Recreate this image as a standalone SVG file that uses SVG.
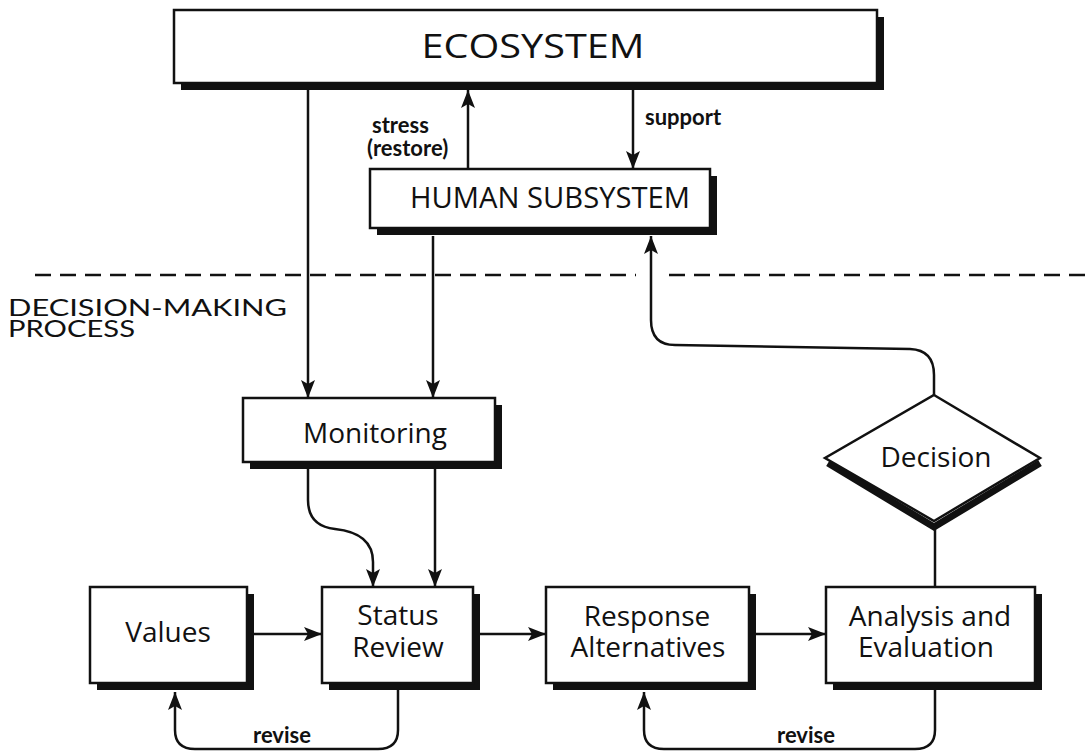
<svg xmlns="http://www.w3.org/2000/svg" width="1086" height="753" viewBox="0 0 1086 753">
<style>
.box{fill:#fff;stroke:#111;stroke-width:2.5}
.sh{fill:#111}
.ln{fill:none;stroke:#111;stroke-width:2.5}
.t{font-family:"Open Sans",Lato,sans-serif;fill:#111;text-anchor:middle;font-size:28px}
.lbl{font-family:Lato,"Open Sans",sans-serif;fill:#111;font-weight:bold;font-size:22px}
</style>
<defs>
<marker id="ah" markerUnits="userSpaceOnUse" markerWidth="20" markerHeight="14" refX="18" refY="7" orient="auto">
<path d="M0,0 L18,7 L0,14 L4,7 z" fill="#111"/>
</marker>
</defs>
<rect width="1086" height="753" fill="#fff"/>
<line x1="35" y1="275" x2="636" y2="275" stroke="#111" stroke-width="2.5" stroke-dasharray="16,9"/>
<line x1="669" y1="275" x2="1086" y2="275" stroke="#111" stroke-width="2.5" stroke-dasharray="16,9"/>
<text font-family="Lato,sans-serif" font-size="24" fill="#111"><tspan x="8" y="316" textLength="279" lengthAdjust="spacingAndGlyphs">DECISION-MAKING</tspan><tspan x="8" y="337" textLength="127" lengthAdjust="spacingAndGlyphs">PROCESS</tspan></text>

<g id="ecosystem">
<rect class="sh" x="181" y="17" width="703" height="73"/>
<rect class="box" x="174" y="10" width="703" height="73"/>
<text class="t" x="533" y="58" style="font-size:32px" textLength="223" lengthAdjust="spacingAndGlyphs">ECOSYSTEM</text>
</g>
<g id="human">
<rect class="sh" x="377" y="176" width="340" height="59"/>
<rect class="box" x="370" y="169" width="340" height="59"/>
<text class="t" x="550" y="208" style="font-size:29px" textLength="280" lengthAdjust="spacingAndGlyphs">HUMAN SUBSYSTEM</text>
</g>
<g id="monitoring">
<rect class="sh" x="250" y="405" width="252" height="64"/>
<rect class="box" x="243" y="398" width="252" height="64"/>
<text class="t" x="375" y="443">Monitoring</text>
</g>
<g id="values">
<rect class="sh" x="97" y="594" width="157" height="96"/>
<rect class="box" x="90" y="587" width="157" height="96"/>
<text class="t" x="168" y="642">Values</text>
</g>
<g id="status">
<rect class="sh" x="329" y="594" width="151" height="96"/>
<rect class="box" x="322" y="587" width="151" height="96"/>
<text class="t"><tspan x="398" y="625">Status</tspan><tspan x="398" y="657">Review</tspan></text>
</g>
<g id="response">
<rect class="sh" x="553" y="594" width="203" height="96"/>
<rect class="box" x="546" y="587" width="203" height="96"/>
<text class="t"><tspan x="647" y="626">Response</tspan><tspan x="648" y="657">Alternatives</tspan></text>
</g>
<g id="analysis">
<rect class="sh" x="833" y="594" width="209" height="96"/>
<rect class="box" x="826" y="587" width="209" height="96"/>
<text class="t"><tspan x="930" y="626">Analysis and</tspan><tspan x="926" y="657">Evaluation</tspan></text>
</g>
<g id="decision">
<polyline points="828,463 934,527 1040,463" fill="none" stroke="#111" stroke-width="7"/>
<polygon class="box" points="934,395 1040,458 934,521 825,458"/>
<text class="t" x="936" y="467">Decision</text>
</g>

<g id="connectors">
<path class="ln" d="M308,90 L308,398" marker-end="url(#ah)"/>
<path class="ln" d="M468,169 L468,90" marker-end="url(#ah)"/>
<path class="ln" d="M633,90 L633,169" marker-end="url(#ah)"/>
<path class="ln" d="M433,236 L433,398" marker-end="url(#ah)"/>
<path class="ln" d="M308,469 L308,500 Q308,526 335,529 Q373,533 373,562 L373,587" marker-end="url(#ah)"/>
<path class="ln" d="M435,469 L435,587" marker-end="url(#ah)"/>
<path class="ln" d="M254,634 L322,634" marker-end="url(#ah)"/>
<path class="ln" d="M480,634 L546,634" marker-end="url(#ah)"/>
<path class="ln" d="M756,634 L826,634" marker-end="url(#ah)"/>
<path class="ln" d="M398,690 L398,730 Q398,749 378,749 L195,749 Q175,749 175,730 L175,692" marker-end="url(#ah)"/>
<path class="ln" d="M935,690 L935,730 Q935,749 915,749 L664,749 Q644,749 644,730 L644,692" marker-end="url(#ah)"/>
<path class="ln" d="M935,587 L935,523"/>
<path class="ln" d="M934,395 L934,375 Q934,350 910,349 L675,345 Q651,345 651,320 L651,236" marker-end="url(#ah)"/>
<text class="lbl"><tspan x="372" y="133">stress</tspan><tspan x="367" y="156">(restore)</tspan></text>
<text class="lbl" x="645" y="125">support</text>
<text class="lbl" x="282" y="743" text-anchor="middle">revise</text>
<text class="lbl" x="806" y="743" text-anchor="middle">revise</text>
</g>
</svg>
